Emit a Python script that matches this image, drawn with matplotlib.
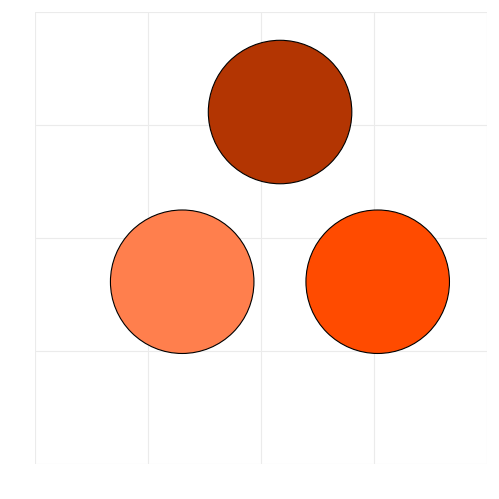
import matplotlib
matplotlib.use('Agg')
import matplotlib.pyplot as plt
from matplotlib.patches import Circle

# circle centres and radius, in data units (axis grid 0..4)
xs = [2.166, 1.30, 3.03]
ys = [3.118, 1.616, 1.616]
radius = [0.635, 0.635, 0.635]
colors = ['#b33502', '#ff7f4d', '#ff4b00']

fig = plt.figure(figsize=(4.99, 4.99), dpi=100)
ax = fig.add_axes([0.0707, 0.0695, 0.9059, 0.9057])

for x, y, r, c in zip(xs, ys, radius, colors):
    ax.add_patch(Circle((x, y), r, facecolor=c, edgecolor='black', linewidth=0.8, zorder=3))

ax.set_xlim(0, 4)
ax.set_ylim(0, 4)
ax.set_xticks([0, 1, 2, 3, 4])
ax.set_yticks([0, 1, 2, 3, 4])
ax.tick_params(length=0, labelbottom=False, labelleft=False)
ax.grid(True, color='#ebebeb', linewidth=0.8)
for s in ax.spines.values():
    s.set_visible(False)

fig.savefig('out.png', dpi=100)
